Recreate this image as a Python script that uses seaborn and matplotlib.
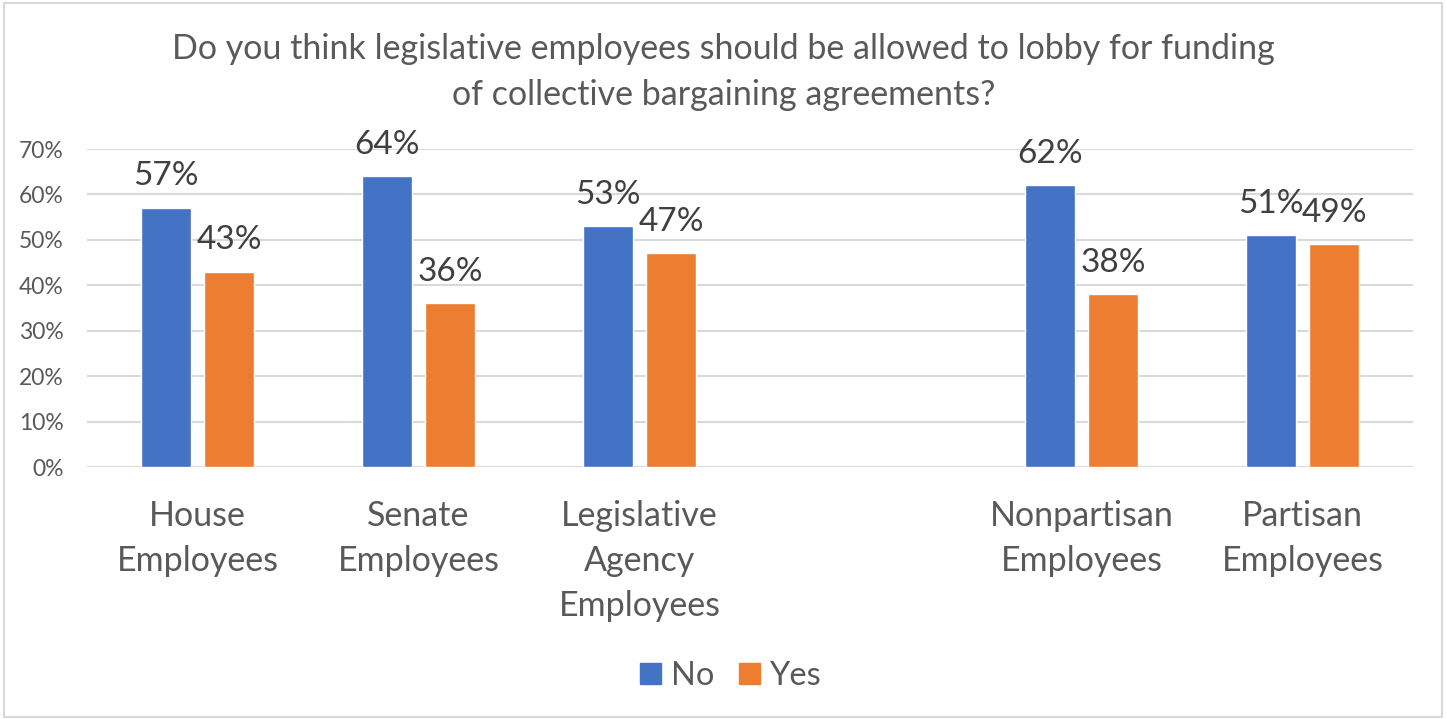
import matplotlib
matplotlib.use("Agg")
import matplotlib.pyplot as plt
import matplotlib.patches as mpatches
from matplotlib.ticker import FuncFormatter, MultipleLocator
import seaborn as sns
import pandas as pd

# Survey groups (the blank entry is a spacer slot between the two sets)
groups = ["House\nEmployees", "Senate\nEmployees", "Legislative\nAgency\nEmployees",
          " ", "Nonpartisan\nEmployees", "Partisan\nEmployees"]
answers = ["No", "Yes"]
no_pct = [57, 64, 53, None, 62, 51]
yes_pct = [43, 36, 47, None, 38, 49]

title = ("Do you think legislative employees should be allowed to lobby for funding\n"
         "of collective bargaining agreements?")

rows = []
for g, n, y in zip(groups, no_pct, yes_pct):
    if n is not None:
        rows.append({"group": g, "answer": "No", "pct": n})
        rows.append({"group": g, "answer": "Yes", "pct": y})
df = pd.DataFrame(rows)

sns.set_theme(style="white")
plt.rcParams["font.family"] = ["Lato", "DejaVu Sans"]

BLUE = "#4472C4"
ORANGE = "#ED7D31"
TXT = "#595959"
LBL = "#404040"
GRID = "#D9D9D9"

fig = plt.figure(figsize=(14.47, 7.19), dpi=100)
ax = fig.add_axes([87 / 1447, 1 - 467 / 719, (1413 - 87) / 1447, (467 - 149) / 719])

sns.barplot(data=df, x="group", y="pct", hue="answer", order=groups,
            hue_order=answers, palette=[BLUE, ORANGE], saturation=1,
            width=0.57, gap=0.207, legend=False, ax=ax, errorbar=None)

ax.set_xlim(-0.5, len(groups) - 0.5)
ax.set_ylim(0, 70)
ax.yaxis.set_major_locator(MultipleLocator(10))
ax.yaxis.set_major_formatter(FuncFormatter(lambda v, _: f"{v:.0f}%"))
ax.grid(axis="y", color=GRID, linewidth=1.5)
ax.set_axisbelow(True)
for s in ax.spines.values():
    s.set_visible(False)
ax.set_xlabel("")
ax.set_ylabel("")
ax.tick_params(axis="y", labelsize=16.5, labelcolor=TXT, length=0, pad=17)
ax.tick_params(axis="x", labelsize=24.5, labelcolor=TXT, length=0, pad=24)
for t in ax.get_xticklabels():
    t.set_linespacing(1.5)

for cont in ax.containers:
    ax.bar_label(cont, fmt="%g%%", padding=12, fontsize=24, color=LBL)

fig.text(0.5, 0.9, title, ha="center", va="center", fontsize=24.5,
         color=TXT, linespacing=1.55)

handles = [mpatches.Patch(color=BLUE, label="No"),
           mpatches.Patch(color=ORANGE, label="Yes")]
fig.legend(handles=handles, loc="center", bbox_to_anchor=(0.505, 0.06), ncol=2,
           frameon=False, fontsize=23.5, labelcolor=TXT, handlelength=0.65,
           handleheight=0.65, handletextpad=0.3, columnspacing=0.75)

fig.add_artist(mpatches.Rectangle((4 / 1447, 2 / 719), 1 - 9 / 1447, 1 - 5 / 719,
                                  transform=fig.transFigure, fill=False,
                                  edgecolor=GRID, linewidth=1.5))

fig.savefig("out.png", dpi=100)
